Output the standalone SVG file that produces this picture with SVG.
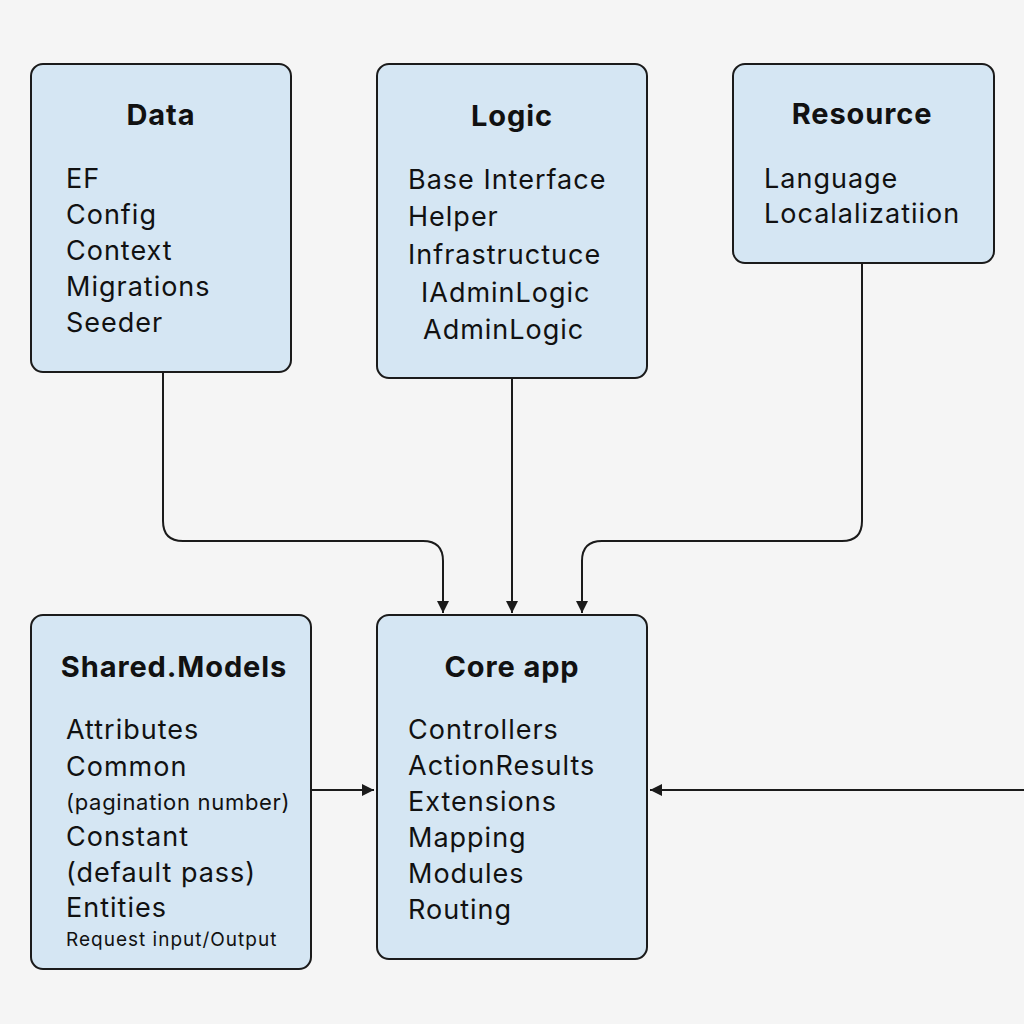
<svg xmlns="http://www.w3.org/2000/svg" width="1024" height="1024" viewBox="0 0 1024 1024">
<style>
.box{fill:#d5e6f3;stroke:#1b1b1b;stroke-width:2}
.t{font-family:Inter,"Liberation Sans",sans-serif;font-weight:700;font-size:29px;letter-spacing:0.9px;fill:#111;text-anchor:middle}
.i{font-family:Inter,"Liberation Sans",sans-serif;font-size:27px;letter-spacing:1px;fill:#111}
.s{font-size:22px;letter-spacing:0.7px}
.xs{font-size:19px;letter-spacing:1px}
.c{fill:none;stroke:#1b1b1b;stroke-width:2}
</style>
<defs>
<marker id="a" viewBox="0 0 10 10" refX="10" refY="5" markerWidth="12" markerHeight="12" markerUnits="userSpaceOnUse" orient="auto"><path d="M0 0L10 5L0 10z" fill="#1b1b1b"/></marker>
</defs>
<rect width="1024" height="1024" fill="#f5f5f5"/>
<g id="connectors">
<path class="c" d="M163 373V521Q163 541 183 541H423Q443 541 443 561V613" marker-end="url(#a)"/>
<path class="c" d="M512 379V613" marker-end="url(#a)"/>
<path class="c" d="M862 264V521Q862 541 842 541H602Q582 541 582 561V613" marker-end="url(#a)"/>
<path class="c" d="M312 790H374" marker-end="url(#a)"/>
<path class="c" d="M1024 790H650" marker-end="url(#a)"/>
</g>
<g id="data">
<rect class="box" x="31" y="64" width="260" height="308" rx="12"/>
<text class="t" x="161" y="125">Data</text>
<text class="i" x="66" y="188">EF</text>
<text class="i" x="66" y="224">Config</text>
<text class="i" x="66" y="260">Context</text>
<text class="i" x="66" y="296">Migrations</text>
<text class="i" x="66" y="332">Seeder</text>
</g>
<g id="logic">
<rect class="box" x="377" y="64" width="270" height="314" rx="12"/>
<text class="t" x="512" y="126">Logic</text>
<text class="i" x="408" y="189">Base Interface</text>
<text class="i" x="408" y="226">Helper</text>
<text class="i" x="408" y="264">Infrastructuce</text>
<text class="i" x="421" y="302">IAdminLogic</text>
<text class="i" x="423" y="339">AdminLogic</text>
</g>
<g id="resource">
<rect class="box" x="733" y="64" width="261" height="199" rx="12"/>
<text class="t" x="862" y="124">Resource</text>
<text class="i" x="764" y="188">Language</text>
<text class="i" x="764" y="223">Localalizatiion</text>
</g>
<g id="shared">
<rect class="box" x="31" y="615" width="280" height="354" rx="12"/>
<text class="t" x="174" y="677">Shared.Models</text>
<text class="i" x="66" y="739">Attributes</text>
<text class="i" x="66" y="776">Common</text>
<text class="i s" x="66" y="810">(pagination number)</text>
<text class="i" x="66" y="846">Constant</text>
<text class="i" x="66" y="882">(default pass)</text>
<text class="i" x="66" y="917">Entities</text>
<text class="i xs" x="66" y="946">Request input/Output</text>
</g>
<g id="core">
<rect class="box" x="377" y="615" width="270" height="344" rx="12"/>
<text class="t" x="512" y="677">Core app</text>
<text class="i" x="408" y="739">Controllers</text>
<text class="i" x="408" y="775">ActionResults</text>
<text class="i" x="408" y="811">Extensions</text>
<text class="i" x="408" y="847">Mapping</text>
<text class="i" x="408" y="883">Modules</text>
<text class="i" x="408" y="919">Routing</text>
</g>
</svg>
